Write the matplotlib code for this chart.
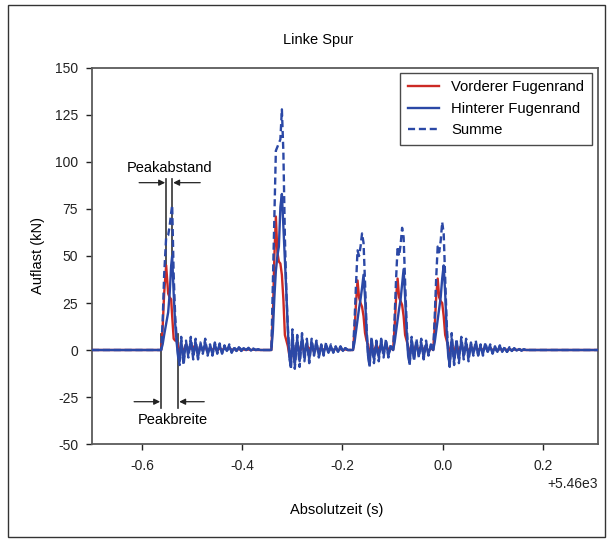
import numpy as np
import matplotlib.pyplot as plt
from matplotlib.patches import Rectangle

plt.rcParams['font.family'] = ['Liberation Sans', 'DejaVu Sans']
plt.rcParams['axes.unicode_minus'] = False

# Zeitbasis (s) und Abtastintervall in den Ausschwingphasen
T0 = 5460.0
DT = 0.0048

# Ueberrollpeaks: Zeit relativ zu T0, Auflast in kN
peak1_t = [-0.562, -0.559, -0.556, -0.552, -0.548, -0.545, -0.542, -0.540, -0.537, -0.534, -0.531, -0.528, -0.525]
peak1_vorne = [0, 12, 30, 45, 30, 28, 27, 18, 6, 5, 5, 2, -2]
peak1_hinten = [0, 3, 8, 14, 20, 30, 45, 50, 30, 14, 4, -4, -6]
peak1_summe = [0, 15, 40, 60, 61, 66, 73, 77, 40, 18, 6, -3, -8]

peak2_t = [-0.342, -0.339, -0.336, -0.333, -0.330, -0.327, -0.324, -0.321, -0.318, -0.315, -0.312, -0.309, -0.306, -0.303]
peak2_vorne = [0, 18, 50, 71, 52, 47, 46, 40, 27, 8, 5, 2, -3, -5]
peak2_hinten = [0, 10, 28, 42, 50, 55, 76, 83, 66, 48, 30, 10, -4, -9]
peak2_summe = [0, 35, 70, 106, 108, 110, 112, 128, 105, 60, 30, 12, -3, -10]

peak3_t = [-0.179, -0.176, -0.173, -0.170, -0.167, -0.164, -0.161, -0.158, -0.155, -0.152, -0.149, -0.146]
peak3_vorne = [0, 10, 25, 37, 28, 25, 23, 18, 9, 5, 3, -2]
peak3_hinten = [0, 4, 10, 16, 22, 27, 33, 40, 28, 10, -3, -8]
peak3_summe = [0, 15, 35, 53, 50, 55, 62, 57, 36, 12, -2, -9]

peak4_t = [-0.099, -0.096, -0.093, -0.090, -0.087, -0.084, -0.081, -0.078, -0.075, -0.072, -0.069, -0.066]
peak4_vorne = [0, 12, 28, 38, 28, 26, 24, 18, 8, 5, 2, -2]
peak4_hinten = [0, 4, 10, 16, 22, 27, 35, 43, 28, 10, -3, -7]
peak4_summe = [0, 17, 38, 55, 50, 56, 65, 60, 36, 14, -1, -8]

peak5_t = [-0.019, -0.016, -0.013, -0.010, -0.007, -0.004, -0.001, 0.002, 0.005, 0.008, 0.011, 0.014]
peak5_vorne = [0, 12, 28, 38, 28, 26, 25, 18, 8, 5, 2, -2]
peak5_hinten = [0, 4, 10, 16, 22, 28, 38, 45, 30, 10, -3, -8]
peak5_summe = [0, 17, 38, 55, 52, 58, 68, 62, 38, 14, -1, -9]

# Ausschwingen nach den Peaks (Startzeit, Werte im Abstand DT)
osc1_start = -0.522
osc1_vorne = [2, -1, 3, 0, 1, 1, 3, -2, 2, 0, 2, -1, 1, 0, 1.5, -0.5, 1, 0, 1, 0.5,
              1, 0, 0.5, 0, 0.5, 0, 0.3, 0, 0.3, 0, 0.2, 0, 0, 0]
osc1_hinten = [5, -5, 3, -2, 5, -3, 4, -4, 3, -1, 4, -2, 2, -2, 3, -1, 2.5, -1.5, 1.5, -0.5,
               2, -1, 1, -0.5, 1.5, -0.5, 1, 0, 0.8, -0.3, 0.5, 0, 0.3, 0]
osc1_summe = [7, -8, 5, -4, 7, -5, 6, -5, 4, -2, 6, -3, 3, -3, 4, -2, 3.5, -2, 2.5, -1,
              3, -1.5, 1.5, -0.5, 2, -0.5, 1.5, 0, 1.2, -0.3, 0.8, 0, 0.4, 0]

osc2_start = -0.300
osc2_vorne = [3, -2, 4, -1, 2, -1, 3, 0, 2, -1, 1.5, 0, 1, 0, 1, 0, 0.5, 0, 0.5, 0,
              0.5, 0, 0.3, 0, 0]
osc2_hinten = [8, -8, 6, -6, 7, -4, 4, -5, 4, -2, 4, -3, 2, -2, 3, -1.5, 2, -1, 1.5, -1,
               1.5, -0.5, 1, 0, 0]
osc2_summe = [11, -10, 8, -9, 9, -6, 6, -7, 6, -3, 5, -4, 3, -3, 4, -2, 3, -1.5, 2, -1,
              2, -0.5, 1, 0, 0]

osc3_start = -0.142
osc3_vorne = [2, -1, 3, 0, 2, -1, 3, 0, 1]
osc3_hinten = [5, -5, 3, -4, 5, -2, 4, -3, 2]
osc3_summe = [7, -7, 5, -6, 6, -4, 6, -4, 3]

osc4_start = -0.062
osc4_vorne = [2, 0, 3, -1, 2, 0, 2, -1, 1]
osc4_hinten = [5, -4, 4, -3, 4, -4, 3, -2, 2]
osc4_summe = [7, -6, 6, -4, 6, -5, 5, -3, 3]

osc5_start = 0.018
osc5_vorne = [3, -1, 3, -1, 2, 0, 2, -1, 2, 0, 1.5, 0, 1, 0, 1.5, 0, 1, 0, 0.5, 0,
              0.5, 0, 0.5, 0, 0.3, 0, 0.3, 0, 0.2, 0, 0, 0, 0]
osc5_hinten = [6, -6, 4, -5, 5, -3, 4, -4, 3, -2, 3.5, -2.5, 2, -2, 3, -1, 2, -1.5, 1.5, -1,
               2, -0.5, 1, -1, 1, -0.5, 0.8, -0.3, 0.5, -0.3, 0.3, 0, 0]
osc5_summe = [9, -8, 6, -7, 7, -5, 6, -6, 4, -3, 5, -3, 3, -3, 4, -1.5, 3, -2, 2, -1.5,
              2.5, -1, 1.5, -1, 1.5, -0.5, 1, -0.3, 0.7, -0.3, 0.4, 0, 0]

rot = '#cc2a24'
blau = '#2b48a6'


def osc_zeit(start, werte):
    return list(start + DT * np.arange(len(werte)))


segmente = [
    ([-0.700, -0.565], [0, 0], [0, 0], [0, 0]),
    (peak1_t, peak1_vorne, peak1_hinten, peak1_summe),
    (osc_zeit(osc1_start, osc1_hinten), osc1_vorne, osc1_hinten, osc1_summe),
    ([-0.345], [0], [0], [0]),
    (peak2_t, peak2_vorne, peak2_hinten, peak2_summe),
    (osc_zeit(osc2_start, osc2_hinten), osc2_vorne, osc2_hinten, osc2_summe),
    (peak3_t, peak3_vorne, peak3_hinten, peak3_summe),
    (osc_zeit(osc3_start, osc3_hinten), osc3_vorne, osc3_hinten, osc3_summe),
    (peak4_t, peak4_vorne, peak4_hinten, peak4_summe),
    (osc_zeit(osc4_start, osc4_hinten), osc4_vorne, osc4_hinten, osc4_summe),
    (peak5_t, peak5_vorne, peak5_hinten, peak5_summe),
    (osc_zeit(osc5_start, osc5_hinten), osc5_vorne, osc5_hinten, osc5_summe),
    ([0.310], [0], [0], [0]),
]

zeit = T0 + np.concatenate([s[0] for s in segmente])
vorne = np.concatenate([s[1] for s in segmente])
hinten = np.concatenate([s[2] for s in segmente])
summe = np.concatenate([s[3] for s in segmente])

fig = plt.figure(figsize=(6.11, 5.43), dpi=100)
ax = fig.add_axes([0.1506, 0.1823, 0.8281, 0.6925])

ax.plot(zeit, vorne, color=rot, lw=1.7, label='Vorderer Fugenrand', zorder=3)
ax.plot(zeit, hinten, color=blau, lw=1.7, label='Hinterer Fugenrand', zorder=4)
ax.plot(zeit, summe, color=blau, lw=1.7, ls=(0, (3.0, 1.6)), label='Summe', zorder=5)

ax.set_xlim(T0 - 0.70, T0 + 0.31)
ax.set_ylim(-50, 150)
ax.set_xticks(T0 + np.array([-0.6, -0.4, -0.2, 0.0, 0.2]))
ax.set_yticks(np.arange(-50, 151, 25))
ax.tick_params(direction='out', length=4, width=1, colors='#222222', labelsize=10)
ax.tick_params(axis='x', pad=7)
ax.tick_params(axis='y', pad=6)
for sp in ax.spines.values():
    sp.set_color('#5a5a5a')
    sp.set_linewidth(1.3)

# Annotationen Peakabstand / Peakbreite
i_v = int(np.argmax(peak1_vorne))
i_h = int(np.argmax(peak1_hinten))
t_v = T0 + peak1_t[i_v]
t_h = T0 + peak1_t[i_h]
ax.plot([t_v, t_v], [91, peak1_vorne[i_v]], color='#333333', lw=1.2, zorder=2)
ax.plot([t_h, t_h], [91, peak1_hinten[i_h]], color='#333333', lw=1.2, zorder=2)
pfeil = dict(arrowstyle='-|>', color='#222222', lw=0.9, mutation_scale=9, shrinkA=0, shrinkB=0)
ax.annotate('', xy=(t_v - 0.002, 89), xytext=(t_v - 0.054, 89), arrowprops=pfeil)
ax.annotate('', xy=(t_h + 0.002, 89), xytext=(t_h + 0.056, 89), arrowprops=pfeil)
ax.text(T0 - 0.546, 97, 'Peakabstand', ha='center', va='center', fontsize=10.5)

t_a = T0 + peak1_t[0]
t_e = T0 + peak1_t[-2]
ax.plot([t_a, t_a], [8.5, -31], color='#333333', lw=1.2, zorder=2)
ax.plot([t_e, t_e], [8.5, -31], color='#333333', lw=1.2, zorder=2)
ax.annotate('', xy=(t_a - 0.002, -27.5), xytext=(t_a - 0.054, -27.5), arrowprops=pfeil)
ax.annotate('', xy=(t_e + 0.002, -27.5), xytext=(t_e + 0.052, -27.5), arrowprops=pfeil)
ax.text(T0 - 0.538, -37.4, 'Peakbreite', ha='center', va='center', fontsize=10.5)

leg = ax.legend(loc='upper right', bbox_to_anchor=(0.988, 0.987), borderaxespad=0,
                fontsize=10.7, fancybox=False, framealpha=1, handlelength=2.1,
                handletextpad=0.85, labelspacing=0.5, borderpad=0.5)
leg.get_frame().set_edgecolor('#4a4a4a')
leg.get_frame().set_linewidth(1.0)

fig.text(318 / 611, 1 - 40 / 543, 'Linke Spur', ha='center', va='center', fontsize=10.5)
fig.text(38 / 611, 1 - 256 / 543, 'Auflast (kN)', ha='center', va='center', rotation=90, fontsize=10.5)
fig.text(337 / 611, 1 - 510 / 543, 'Absolutzeit (s)', ha='center', va='center', fontsize=10.5)

fig.patches.append(Rectangle((8 / 611, 1 - 537 / 543), 597 / 611, 532 / 543,
                             transform=fig.transFigure, fill=False, edgecolor='#333333', lw=1.0))

fig.savefig('out.png', dpi=100)
